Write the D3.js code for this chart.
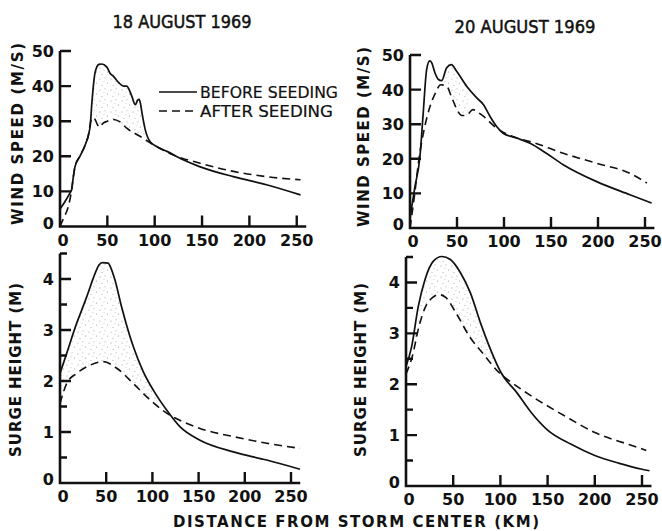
<!DOCTYPE html>
<html><head><meta charset="utf-8">
<script src="https://cdn.jsdelivr.net/npm/d3@7"></script>
<style>
html,body{margin:0;padding:0;background:#fff;}
svg{display:block;}
text{fill:#111;}
</style></head>
<body>
<svg id="chart" width="662" height="531"></svg>
<script>
// ---------- DATA ----------
const titles = ["18 AUGUST 1969", "20 AUGUST 1969"];
const legendLabels = ["BEFORE SEEDING", "AFTER SEEDING"];
const xTicks = [0, 50, 100, 150, 200, 250];
const windTicks = [0, 10, 20, 30, 40, 50];
const surgeTicks = [0, 1, 2, 3, 4];
const surgeMinorTicks = [0.5, 1.5, 2.5, 3.5, 4.5];
const windLabel = "WIND SPEED (M/S)";
const surgeLabel = "SURGE HEIGHT (M)";
const xLabel = "DISTANCE FROM STORM CENTER (KM)";

// [distance km, wind m/s]
const wind18Before = [[0,5],[5,7],[10,9.3],[12.3,10.5],[14,14],[15.8,17],[21,20],[27,23.5],[30,26],[32,29],[33.6,35],[37,43.8],[41,46.2],[44,46.3],[49.5,45.4],[53,43.6],[56.5,42.8],[62,41],[67,40],[70.5,40],[73,39],[76,37],[79.5,34.7],[82,36],[83.5,36.2],[85,35],[86.5,32.5],[90,27.6],[95,24.2],[102,22.8],[113,21.4],[130,19],[148,17],[183,14.2],[218,11.9],[254,9]];
const wind18After = [[0,0],[4,2.5],[8.8,5.7],[12.3,10.5],[14,14],[15.8,17],[21,20],[27,23.5],[30,26],[32.5,30],[34.5,31],[37,30.5],[40,28.8],[42,28.3],[45,29.3],[50,30],[56.5,30.5],[63.4,29.8],[70.5,28],[84.5,25.7],[98.6,23.3],[119.7,20.4],[148,18],[183,15.7],[218,14.2],[254,13.3]];
const wind20Before = [[0,3],[5.3,12],[10.6,20.7],[14,33],[17.7,45.8],[21,48.3],[23,47.8],[26.6,44.8],[30,43],[33.7,42.6],[39,46.3],[44,47.2],[49.6,45.3],[60.3,41],[71,37.6],[78,35.7],[85,32.3],[92,29.4],[99,27.4],[113.5,26],[127.7,24.5],[145,21.6],[163,18.3],[198.6,13.4],[234,9.6],[257,7.2]];
const wind20After = [[0,0],[4.6,9],[9.9,20.7],[15,28.4],[22,35.7],[27,39],[32.6,41.4],[39,41],[44,38],[51,33.7],[55,32.5],[60,32.6],[67,34.2],[72,33.5],[78,32.3],[92,28.9],[113.5,26],[127.7,25],[163,21.6],[198.6,18.7],[234,15.8],[252,13]];

// [distance km, surge height m]
const surge18Before = [[0,2.15],[7.2,2.54],[18,3.13],[23.5,3.39],[28.9,3.65],[38,4.11],[42,4.27],[46,4.32],[52,4.31],[55,4.22],[59.5,3.98],[66.7,3.45],[72,3.1],[79.4,2.67],[90.2,2.18],[101,1.82],[115.4,1.43],[130,1.1],[151.5,0.84],[187.6,0.61],[223.7,0.45],[259.7,0.27]];
const surge18After = [[0,1.56],[7.2,1.95],[18,2.15],[32.5,2.31],[46.9,2.38],[61.4,2.25],[79.4,1.95],[97.4,1.63],[115.4,1.37],[133.4,1.2],[151.5,1.07],[187.6,0.91],[223.7,0.78],[259.7,0.68]];
const surge20Before = [[0,2.35],[6,2.74],[13,3.53],[20,4.05],[29,4.42],[38,4.51],[47,4.45],[57.7,4.19],[68.3,3.79],[79,3.2],[89.6,2.68],[100,2.25],[118,1.82],[132,1.46],[150,1.1],[175,0.82],[200,0.6],[225,0.45],[250,0.33],[258,0.3]];
const surge20After = [[0,2.2],[6.7,2.55],[13.8,3.14],[20.9,3.53],[28,3.7],[35,3.76],[42.4,3.7],[53,3.4],[67.2,2.94],[81.3,2.61],[99,2.22],[113,2.02],[131,1.79],[166,1.4],[201.5,1.04],[237,0.81],[254.5,0.7]];

// ---------- DRAWING ----------
const svg = d3.select("#chart");
const FONT = "'DejaVu Sans', 'Liberation Sans', sans-serif";
const INK = "#111";

// sparse stipple pattern
const defs = svg.append("defs");
const pat = defs.append("pattern").attr("id","stipple").attr("patternUnits","userSpaceOnUse")
  .attr("width",11).attr("height",11);
[[1,2,0.6],[6,0.8,0.5],[8.5,6,0.6],[3,8.5,0.5],[5,4.5,0.45]].forEach(d=>{
  pat.append("circle").attr("cx",d[0]).attr("cy",d[1]).attr("r",d[2]).attr("fill","#9a9a9a");
});

function interp(series, x){
  for(let i=0;i<series.length-1;i++){
    const a=series[i], b=series[i+1];
    if(x>=a[0] && x<=b[0]){ const t=(x-a[0])/(b[0]-a[0]||1); return a[1]+t*(b[1]-a[1]); }
  }
  return series[series.length-1][1];
}

const panels = [
  {x0:60, kmPx:0.947, y0:226.5, yTop:51, yMax:50, ticks:windTicks, minor:[], before:wind18Before, after:wind18After, shade:[30,96], label:windLabel, labelX:18, labelY:134, labelLen:182},
  {x0:410, kmPx:0.94, y0:228, yTop:55, yMax:50, ticks:windTicks, minor:[], before:wind20Before, after:wind20After, shade:[34,62], label:windLabel, labelX:364, labelY:137, labelLen:180},
  {x0:60, kmPx:0.924, y0:483, yTop:253.5, yMax:4.5, ticks:surgeTicks, minor:surgeMinorTicks, before:surge18Before, after:surge18After, shade:[0,118], label:surgeLabel, labelX:16, labelY:370, labelLen:174},
  {x0:406, kmPx:0.944, y0:486, yTop:257, yMax:4.5, ticks:surgeTicks, minor:surgeMinorTicks, before:surge20Before, after:surge20After, shade:[8,95], label:surgeLabel, labelX:361, labelY:370, labelLen:174}
];

panels.forEach(p=>{
  const x = d3.scaleLinear().domain([0,260]).range([p.x0, p.x0 + 260*p.kmPx]);
  const y = d3.scaleLinear().domain([0,p.yMax]).range([p.y0, p.yTop]);
  const g = svg.append("g");

  // stippled band between the two curves
  const xs = d3.range(p.shade[0], p.shade[1]+0.01, 0.5);
  const area = d3.area().x(d=>x(d)).y0(d=>y(Math.min(interp(p.before,d),interp(p.after,d))))
    .y1(d=>y(Math.max(interp(p.before,d),interp(p.after,d)))).curve(d3.curveMonotoneX);
  g.append("path").attr("d",area(xs)).attr("fill","url(#stipple)");

  const line = d3.line().x(d=>x(d[0])).y(d=>y(d[1])).curve(d3.curveMonotoneX);
  g.append("path").attr("d",line(p.before)).attr("fill","none").attr("stroke",INK).attr("stroke-width",1.7);
  g.append("path").attr("d",line(p.after)).attr("fill","none").attr("stroke",INK).attr("stroke-width",1.6)
    .attr("stroke-dasharray","8,5");

  // inward ticks
  let td = "";
  xTicks.filter(d=>d>0).forEach(d=>{ td += `M${x(d)},${p.y0}V${p.y0-11}`; });
  p.ticks.filter(d=>d>0).forEach(d=>{ td += `M${p.x0},${y(d)}H${p.x0+11}`; });
  p.minor.forEach(d=>{ td += `M${p.x0},${y(d)}H${p.x0+7}`; });
  g.append("path").attr("d",td).attr("fill","none").attr("stroke",INK).attr("stroke-width",2.4);

  // axis lines
  g.append("path").attr("d",`M${p.x0},${y(p.yMax)}V${p.y0}H${x(260)}`)
    .attr("fill","none").attr("stroke",INK).attr("stroke-width",2.6);

  g.selectAll(null).data(xTicks).enter().append("text")
    .attr("x",d=>x(d)+(d===0?3:0)).attr("y",p.y0+19).attr("text-anchor","middle")
    .attr("font-family",FONT).attr("font-weight","bold").attr("font-size",16).text(d=>d);
  g.selectAll(null).data(p.ticks).enter().append("text")
    .attr("x",p.x0-6).attr("y",d=>y(d)+(d===0?2:6)).attr("text-anchor","end")
    .attr("font-family",FONT).attr("font-weight","bold").attr("font-size",16).text(d=>d);

  g.append("text").attr("transform",`translate(${p.labelX},${p.labelY}) rotate(-90)`)
    .attr("text-anchor","middle").attr("dominant-baseline","central")
    .attr("font-family",FONT).attr("font-weight","bold").attr("font-size",15)
    .attr("textLength",p.labelLen).attr("lengthAdjust","spacing").text(p.label);
});

svg.append("text").attr("x",182).attr("y",28).attr("text-anchor","middle")
  .attr("font-family",FONT).attr("font-size",18).attr("stroke",INK).attr("stroke-width",0.5)
  .attr("textLength",139).attr("lengthAdjust","spacingAndGlyphs").text(titles[0]);
svg.append("text").attr("x",525).attr("y",33).attr("text-anchor","middle")
  .attr("font-family",FONT).attr("font-size",18).attr("stroke",INK).attr("stroke-width",0.5)
  .attr("textLength",141).attr("lengthAdjust","spacingAndGlyphs").text(titles[1]);

const lg = svg.append("g");
lg.append("line").attr("x1",159).attr("x2",197).attr("y1",92).attr("y2",92).attr("stroke",INK).attr("stroke-width",1.7);
lg.append("line").attr("x1",159).attr("x2",197).attr("y1",111).attr("y2",111).attr("stroke",INK).attr("stroke-width",1.6).attr("stroke-dasharray","8,5");
lg.append("text").attr("x",200).attr("y",98).attr("font-family",FONT).attr("font-size",15)
  .attr("stroke",INK).attr("stroke-width",0.2)
  .attr("textLength",138).attr("lengthAdjust","spacingAndGlyphs").text(legendLabels[0]);
lg.append("text").attr("x",200).attr("y",117).attr("font-family",FONT).attr("font-size",15)
  .attr("stroke",INK).attr("stroke-width",0.2)
  .attr("textLength",133).attr("lengthAdjust","spacingAndGlyphs").text(legendLabels[1]);

svg.append("text").attr("x",356).attr("y",527).attr("text-anchor","middle")
  .attr("font-family",FONT).attr("font-weight","bold").attr("font-size",15)
  .attr("textLength",366).attr("lengthAdjust","spacing").text(xLabel);
</script>
</body></html>
